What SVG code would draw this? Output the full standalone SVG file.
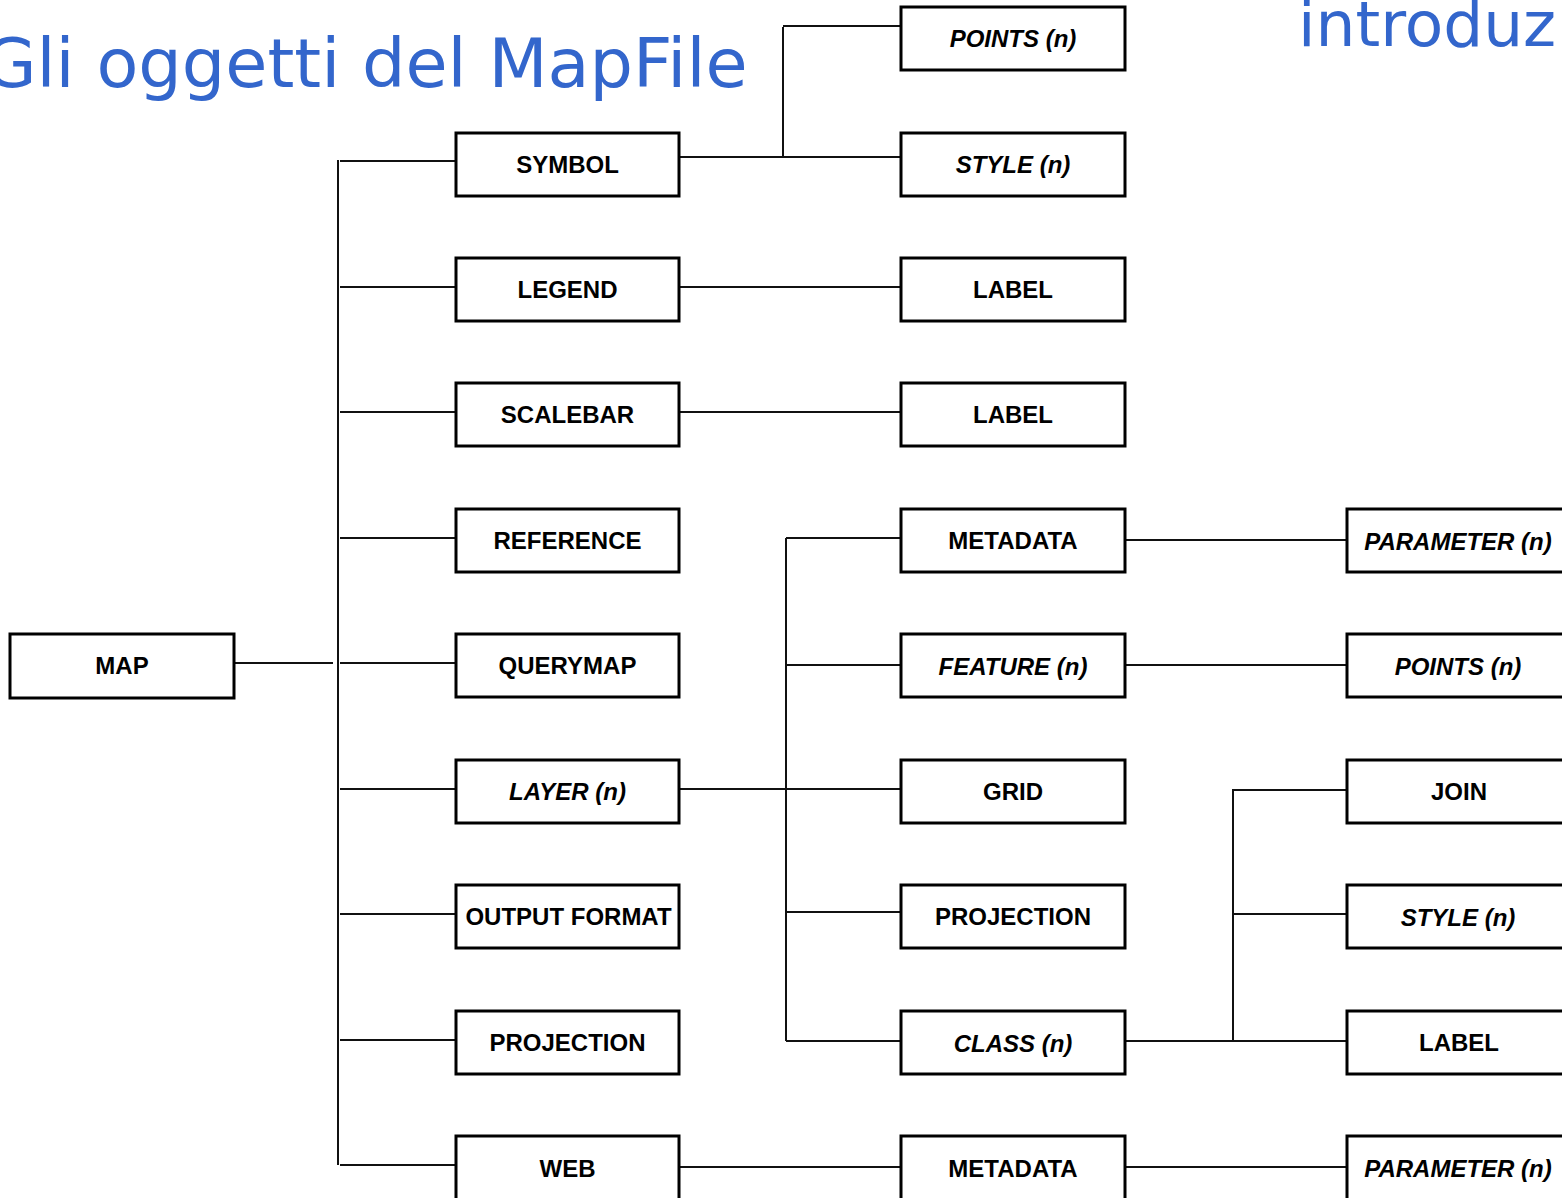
<svg xmlns="http://www.w3.org/2000/svg" width="1562" height="1198" viewBox="0 0 1562 1198">
<style>
.box{fill:#fff;stroke:#000;stroke-width:3}
.lbl{font-family:"Liberation Sans",Arial,sans-serif;font-size:24px;font-weight:bold;fill:#000;text-anchor:middle}
.it{font-style:italic}
.title{font-family:"DejaVu Sans",Verdana,sans-serif;fill:#3366cc}
#connectors line{stroke:#111;stroke-width:2}
</style>
<rect width="1562" height="1198" fill="#fff"/>
<text class="title" x="-16.5" y="87" font-size="68.5">Gli oggetti del MapFile</text>
<text class="title" x="1298" y="46" font-size="63">introduz</text>
<g id="connectors">
<line x1="234" y1="663" x2="333" y2="663"/>
<line x1="338" y1="160" x2="338" y2="1165"/>
<line x1="340" y1="161" x2="456" y2="161"/>
<line x1="340" y1="287" x2="456" y2="287"/>
<line x1="340" y1="412" x2="456" y2="412"/>
<line x1="340" y1="538" x2="456" y2="538"/>
<line x1="340" y1="663" x2="456" y2="663"/>
<line x1="340" y1="789" x2="456" y2="789"/>
<line x1="340" y1="914" x2="456" y2="914"/>
<line x1="340" y1="1040" x2="456" y2="1040"/>
<line x1="340" y1="1165" x2="456" y2="1165"/>
<line x1="680" y1="157" x2="901" y2="157"/>
<line x1="783" y1="27" x2="783" y2="157"/>
<line x1="783" y1="26" x2="901" y2="26"/>
<line x1="680" y1="287" x2="901" y2="287"/>
<line x1="680" y1="412" x2="901" y2="412"/>
<line x1="680" y1="789" x2="901" y2="789"/>
<line x1="786" y1="538" x2="786" y2="1041"/>
<line x1="786" y1="538" x2="901" y2="538"/>
<line x1="786" y1="665" x2="901" y2="665"/>
<line x1="786" y1="912" x2="901" y2="912"/>
<line x1="786" y1="1041" x2="901" y2="1041"/>
<line x1="1122" y1="540" x2="1347" y2="540"/>
<line x1="1125" y1="665" x2="1347" y2="665"/>
<line x1="1125" y1="1041" x2="1347" y2="1041"/>
<line x1="1233" y1="789" x2="1233" y2="1040"/>
<line x1="1233" y1="790" x2="1347" y2="790"/>
<line x1="1233" y1="914" x2="1347" y2="914"/>
<line x1="680" y1="1167" x2="901" y2="1167"/>
<line x1="1122" y1="1167" x2="1347" y2="1167"/>
</g>
<g id="map"><rect class="box" x="10" y="634" width="224" height="64"/><text class="lbl" x="122" y="674">MAP</text></g>
<g id="symbol"><rect class="box" x="456" y="133" width="223" height="63"/><text class="lbl" x="567.5" y="173">SYMBOL</text></g>
<g id="legend"><rect class="box" x="456" y="258" width="223" height="63"/><text class="lbl" x="567.5" y="298">LEGEND</text></g>
<g id="scalebar"><rect class="box" x="456" y="383" width="223" height="63"/><text class="lbl" x="567.5" y="423">SCALEBAR</text></g>
<g id="reference"><rect class="box" x="456" y="509" width="223" height="63"/><text class="lbl" x="567.5" y="549">REFERENCE</text></g>
<g id="querymap"><rect class="box" x="456" y="634" width="223" height="63"/><text class="lbl" x="567.5" y="674">QUERYMAP</text></g>
<g id="layer"><rect class="box" x="456" y="760" width="223" height="63"/><text class="lbl it" x="567.5" y="800">LAYER (n)</text></g>
<g id="outputformat"><rect class="box" x="456" y="885" width="223" height="63"/><text class="lbl" x="568.5" y="925">OUTPUT FORMAT</text></g>
<g id="projection1"><rect class="box" x="456" y="1011" width="223" height="63"/><text class="lbl" x="567.5" y="1051">PROJECTION</text></g>
<g id="web"><rect class="box" x="456" y="1136" width="223" height="70"/><text class="lbl" x="567.5" y="1177">WEB</text></g>
<g id="points1"><rect class="box" x="901" y="7" width="224" height="63"/><text class="lbl it" x="1013" y="47">POINTS (n)</text></g>
<g id="style1"><rect class="box" x="901" y="133" width="224" height="63"/><text class="lbl it" x="1013" y="173">STYLE (n)</text></g>
<g id="label1"><rect class="box" x="901" y="258" width="224" height="63"/><text class="lbl" x="1013" y="298">LABEL</text></g>
<g id="label2"><rect class="box" x="901" y="383" width="224" height="63"/><text class="lbl" x="1013" y="423">LABEL</text></g>
<g id="metadata1"><rect class="box" x="901" y="509" width="224" height="63"/><text class="lbl" x="1013" y="549">METADATA</text></g>
<g id="feature"><rect class="box" x="901" y="634" width="224" height="63"/><text class="lbl it" x="1013" y="675">FEATURE (n)</text></g>
<g id="grid"><rect class="box" x="901" y="760" width="224" height="63"/><text class="lbl" x="1013" y="800">GRID</text></g>
<g id="projection2"><rect class="box" x="901" y="885" width="224" height="63"/><text class="lbl" x="1013" y="925">PROJECTION</text></g>
<g id="class"><rect class="box" x="901" y="1011" width="224" height="63"/><text class="lbl it" x="1013" y="1052">CLASS (n)</text></g>
<g id="metadata2"><rect class="box" x="901" y="1136" width="224" height="70"/><text class="lbl" x="1013" y="1177">METADATA</text></g>
<g id="parameter1"><rect class="box" x="1347" y="509" width="230" height="63"/><text class="lbl it" x="1458" y="550">PARAMETER (n)</text></g>
<g id="points2"><rect class="box" x="1347" y="634" width="230" height="63"/><text class="lbl it" x="1458" y="675">POINTS (n)</text></g>
<g id="join"><rect class="box" x="1347" y="760" width="230" height="63"/><text class="lbl" x="1459" y="800">JOIN</text></g>
<g id="style2"><rect class="box" x="1347" y="885" width="230" height="63"/><text class="lbl it" x="1458" y="926">STYLE (n)</text></g>
<g id="label3"><rect class="box" x="1347" y="1011" width="230" height="63"/><text class="lbl" x="1459" y="1051">LABEL</text></g>
<g id="parameter2"><rect class="box" x="1347" y="1136" width="230" height="70"/><text class="lbl it" x="1458" y="1177">PARAMETER (n)</text></g>
</svg>
